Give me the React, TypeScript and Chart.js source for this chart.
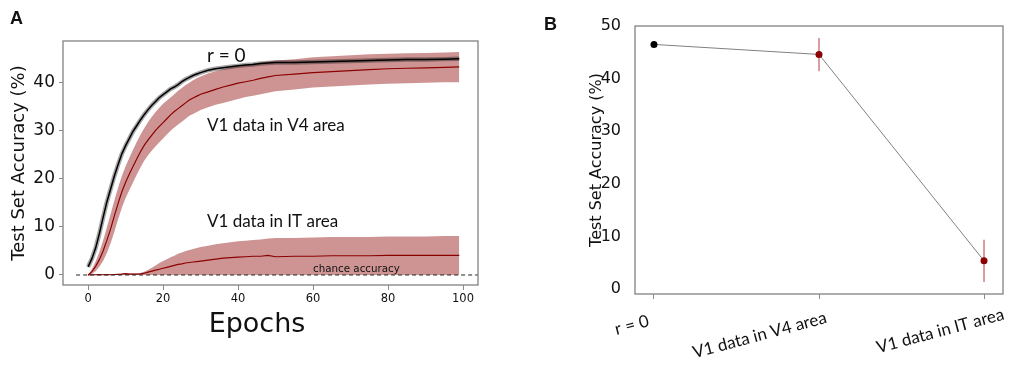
import React, { useEffect, useRef } from 'react';
import { Chart, registerables } from 'chart.js';

Chart.register(...registerables);

// ---------- Panel A data ----------
const epochs = [
  0, 1, 2, 3, 4, 5, 6, 7, 8, 9, 10, 11, 12, 13, 14, 15, 16, 17, 18, 19, 20, 21, 22, 23, 24, 25, 26, 27, 28, 29, 30,
  32, 34, 36, 38, 40, 42, 44, 46, 48, 50,
  55, 60, 65, 70, 75, 80, 85, 90, 95, 99,
];
const r0Mean = [
  1.7, 3.4, 5.6, 8.6, 12.0, 15.2, 17.9, 20.6, 23.0, 25.2, 26.9, 28.4, 29.9, 31.1, 32.3, 33.4, 34.4, 35.3, 36.1, 36.9, 37.5, 38.1, 38.7, 39.1, 39.6, 40.2, 40.7, 41.1, 41.5, 41.8, 42.1,
  42.6, 42.9, 43.1, 43.3, 43.5, 43.7, 43.8, 44.0, 44.1, 44.2,
  44.2, 44.3, 44.4, 44.5, 44.6, 44.7, 44.8, 44.8, 44.9, 45.0,
];
const v4Mean = [
  0, 0.7, 1.8, 3.2, 5.0, 7.2, 9.6, 12.3, 14.9, 17.3, 19.3, 21.0, 22.6, 24.2, 25.7, 27.0, 28.1, 29.1, 30.1, 30.9, 31.7, 32.5, 33.3, 34.0, 34.6, 35.2, 35.8, 36.4, 36.8, 37.2, 37.6,
  38.1, 38.6, 39.1, 39.5, 39.9, 40.2, 40.5, 40.9, 41.2, 41.5,
  41.8, 42.1, 42.3, 42.5, 42.7, 42.9, 43.0, 43.1, 43.2, 43.3,
];
const v4Upper = [
  0, 1.2, 2.8, 4.8, 7.2, 9.9, 12.7, 15.5, 18.2, 20.6, 22.6, 24.4, 26.1, 27.7, 29.2, 30.6, 31.8, 32.9, 33.9, 34.8, 35.6, 36.3, 36.9, 37.6, 38.3, 38.9, 39.5, 40.0, 40.5, 40.9, 41.3,
  41.9, 42.4, 42.8, 43.2, 43.5, 43.8, 44.0, 44.2, 44.4, 44.6,
  44.9, 45.3, 45.5, 45.7, 45.9, 46.0, 46.1, 46.2, 46.3, 46.4,
];
const v4Lower = [
  0, 0.2, 0.8, 1.7, 2.9, 4.6, 6.6, 9.0, 11.6, 14.0, 16.0, 17.7, 19.3, 20.9, 22.4, 23.8, 24.9, 25.9, 26.8, 27.6, 28.4, 29.2, 30.0, 30.7, 31.3, 31.9, 32.5, 33.1, 33.5, 33.9, 34.3,
  34.9, 35.4, 35.8, 36.2, 36.6, 37.0, 37.3, 37.6, 37.9, 38.2,
  38.6, 39.0, 39.2, 39.4, 39.6, 39.8, 39.9, 40.0, 40.1, 40.1,
];
const itMean = [
  0, 0.05, 0.05, 0.1, 0.05, 0.1, 0.05, 0.1, 0.15, 0.2, 0.3, 0.2, 0.2, 0.2, 0.25, 0.4, 0.6, 0.8, 1.0, 1.2, 1.4, 1.6, 1.8, 2.0, 2.2, 2.3, 2.5, 2.6, 2.7, 2.8, 2.9,
  3.1, 3.3, 3.5, 3.6, 3.7, 3.8, 3.9, 3.9, 4.1, 3.8,
  3.9, 3.9, 4.0, 4.0, 4.0, 4.1, 4.1, 4.1, 4.1, 4.1,
];
const itUpper = [
  0, 0.1, 0.1, 0.15, 0.1, 0.15, 0.1, 0.15, 0.2, 0.3, 0.4, 0.3, 0.3, 0.3, 0.4, 0.7, 1.1, 1.5, 2.0, 2.5, 2.9, 3.3, 3.7, 4.0, 4.4, 4.7, 5.0, 5.2, 5.4, 5.6, 5.8,
  6.1, 6.4, 6.6, 6.8, 7.0, 7.1, 7.3, 7.4, 7.6, 7.7,
  7.7, 7.8, 7.9, 7.9, 7.9, 8.0, 8.0, 8.0, 8.1, 8.1,
];
const itLower = [
  0, 0, 0, 0, 0, 0, 0, 0, 0, 0, 0, 0, 0, 0, 0, 0, 0, 0, 0, 0, 0, 0, 0, 0, 0, 0, 0, 0, 0, 0, 0,
  0, 0, 0, 0, 0, 0, 0, 0, 0, 0,
  0, 0, 0, 0, 0, 0, 0, 0, 0, 0,
];
const chanceX = [-3.2, 110];
const chanceY = [0, 0];
const xTicksA = [0, 20, 40, 60, 80, 100];
const yTicksA = [0, 10, 20, 30, 40];

// ---------- Panel B data ----------
const categoriesB = ['r = 0', 'V1 data in V4 area', 'V1 data in IT area'];
const accB = [46.5, 44.6, 5.4];
const errLowB = [46.5, 41.4, 1.4];
const errHighB = [46.5, 47.7, 9.4];
const yTicksB = [0, 10, 20, 30, 40, 50];

// ---------- styling / layout ----------
const DEJAVU = "'DejaVu Sans', sans-serif";
const LATO = "Lato, 'Open Sans', sans-serif";
const BOLD = "'Liberation Sans', Arial, sans-serif";
const BAND = 'rgba(139,0,0,0.42)';
const DARKRED = '#8b0000';
const FRAME = '#8a8a8a';
const TEXT = '#111';

const annotationsA = [
  { text: 'r = 0', x: 31.7, y: 44.4, size: 19, family: LATO },
  { text: 'V1 data in V4 area', x: 31.7, y: 29.9, size: 17, family: LATO },
  { text: 'V1 data in IT area', x: 31.7, y: 9.9, size: 17, family: LATO },
  { text: 'chance accuracy', x: 60, y: 0.7, size: 10.3, family: DEJAVU },
];

const pts = (xs: number[], ys: number[]) => xs.map((x, i) => ({ x, y: ys[i] }));
const tickSetter = (vals: number[]) => (scale: any) => {
  scale.ticks = vals.map((v) => ({ value: v }));
};

const framePlugin = {
  id: 'frame',
  afterDraw(chart: any) {
    const { ctx, chartArea: a } = chart;
    ctx.save();
    ctx.strokeStyle = FRAME;
    ctx.lineWidth = 1.4;
    ctx.strokeRect(a.left, a.top, a.right - a.left, a.bottom - a.top);
    ctx.restore();
  },
};

const textPluginA = {
  id: 'textA',
  afterDraw(chart: any) {
    const { ctx } = chart;
    const xs = chart.scales.x;
    const ys = chart.scales.y;
    ctx.save();
    ctx.fillStyle = TEXT;
    ctx.textBaseline = 'alphabetic';
    ctx.textAlign = 'left';
    annotationsA.forEach((a) => {
      ctx.font = `${a.size}px ${a.family}`;
      ctx.fillText(a.text, xs.getPixelForValue(a.x), ys.getPixelForValue(a.y));
    });
    ctx.font = `27px ${DEJAVU}`;
    ctx.textAlign = 'center';
    ctx.fillText('Epochs', 257, 331.5);
    ctx.font = `bold 18px ${BOLD}`;
    ctx.textAlign = 'left';
    ctx.fillText('A', 10, 24);
    ctx.restore();
  },
};

const textPluginB = {
  id: 'textB',
  afterDraw(chart: any) {
    const { ctx, chartArea } = chart;
    const xs = chart.scales.x;
    const ang = (15 * Math.PI) / 180;
    ctx.save();
    ctx.fillStyle = TEXT;
    ctx.font = `17px ${LATO}`;
    ctx.textAlign = 'right';
    ctx.textBaseline = 'alphabetic';
    categoriesB.forEach((label, i) => {
      const s = i * 13;
      const bx = xs.getPixelForValue(i) - 4 + s * Math.cos(ang);
      const by = chartArea.bottom + 32 - s * Math.sin(ang);
      ctx.save();
      ctx.translate(bx, by);
      ctx.rotate(-ang);
      ctx.fillText(label, 0, 0);
      ctx.restore();
    });
    ctx.font = `bold 18px ${BOLD}`;
    ctx.textAlign = 'left';
    ctx.fillText('B', 14, 30);
    ctx.restore();
  },
};

function lineDs(data: any[], color: string, width: number, extra: any = {}) {
  return {
    data,
    borderColor: color,
    borderWidth: width,
    pointRadius: 0,
    fill: false,
    tension: 0,
    ...extra,
  };
}

export default function App() {
  const refA = useRef<HTMLCanvasElement>(null);
  const refB = useRef<HTMLCanvasElement>(null);

  useEffect(() => {
    const chartA = new Chart(refA.current as HTMLCanvasElement, {
      type: 'line',
      data: {
        datasets: [
          lineDs(pts(chanceX, chanceY), '#222', 1, { borderDash: [4, 3] }),
          lineDs(pts(epochs, r0Mean), '#000', 1.5),
          lineDs(pts(epochs, r0Mean), 'rgba(0,0,0,0.35)', 4.5),
          lineDs(pts(epochs, v4Mean), DARKRED, 1.2),
          lineDs(pts(epochs, itMean), DARKRED, 1.2),
          lineDs(pts(epochs, v4Upper), 'transparent', 0.01, { fill: '+1', backgroundColor: BAND }),
          lineDs(pts(epochs, v4Lower), 'transparent', 0.01),
          lineDs(pts(epochs, itUpper), 'transparent', 0.01, { fill: '+1', backgroundColor: BAND }),
          lineDs(pts(epochs, itLower), 'transparent', 0.01),
        ] as any,
      },
      options: {
        animation: false,
        responsive: false,
        maintainAspectRatio: false,
        layout: { padding: { left: 0, right: 22, top: 41, bottom: 0 } },
        plugins: { legend: { display: false }, tooltip: { enabled: false } },
        scales: {
          x: {
            type: 'linear',
            min: -6.7,
            max: 104,
            afterBuildTicks: tickSetter(xTicksA),
            afterFit: (s: any) => {
              s.height = 84;
            },
            grid: { drawOnChartArea: false, drawTicks: true, tickLength: 5, color: FRAME },
            border: { display: false },
            ticks: { autoSkip: false, maxRotation: 0, padding: 2, color: TEXT, font: { family: DEJAVU, size: 11.5 } },
          },
          y: {
            type: 'linear',
            min: -2.08,
            max: 48.67,
            afterBuildTicks: tickSetter(yTicksA),
            afterFit: (s: any) => {
              s.width = 63;
            },
            grid: { drawOnChartArea: false, drawTicks: true, tickLength: 4, color: FRAME },
            border: { display: false },
            ticks: { autoSkip: false, padding: 4, color: TEXT, font: { family: DEJAVU, size: 17 } },
            title: {
              display: true,
              text: 'Test Set Accuracy (%)',
              color: TEXT,
              font: { family: DEJAVU, size: 18 },
              padding: { top: 9, bottom: 0 },
            },
          },
        },
      } as any,
      plugins: [framePlugin, textPluginA],
    });

    const chartB = new Chart(refB.current as HTMLCanvasElement, {
      type: 'line',
      data: {
        datasets: [
          lineDs(pts([0, 1, 2], accB), '#808080', 1, {
            pointRadius: 3.5,
            pointBorderWidth: 0,
            pointBackgroundColor: ['#000', DARKRED, DARKRED],
            pointBorderColor: ['#000', DARKRED, DARKRED],
          }),
          lineDs(pts([1, 1], [errLowB[1], errHighB[1]]), '#d38585', 1.6),
          lineDs(pts([2, 2], [errLowB[2], errHighB[2]]), '#d38585', 1.6),
        ] as any,
      },
      options: {
        animation: false,
        responsive: false,
        maintainAspectRatio: false,
        layout: { padding: { left: 57, right: 8, top: 26, bottom: 0 } },
        plugins: { legend: { display: false }, tooltip: { enabled: false } },
        scales: {
          x: {
            type: 'linear',
            min: -0.115,
            max: 2.115,
            afterBuildTicks: tickSetter([0, 1, 2]),
            afterFit: (s: any) => {
              s.height = 75;
            },
            grid: { drawOnChartArea: false, drawTicks: true, tickLength: 5, color: FRAME },
            border: { display: false },
            ticks: { display: false },
          },
          y: {
            type: 'linear',
            min: -0.9,
            max: 50,
            afterBuildTicks: tickSetter(yTicksB),
            afterFit: (s: any) => {
              s.width = 48;
            },
            grid: { display: false },
            border: { display: false },
            ticks: { autoSkip: false, padding: 6, color: TEXT, font: { family: DEJAVU, size: 16 } },
            title: {
              display: true,
              text: 'Test Set Accuracy (%)',
              color: TEXT,
              font: { family: DEJAVU, size: 16 },
              padding: { top: 0, bottom: 0 },
            },
          },
        },
      } as any,
      plugins: [framePlugin, textPluginB],
    });

    return () => {
      chartA.destroy();
      chartB.destroy();
    };
  }, []);

  return (
    <div style={{ position: 'fixed', left: 0, top: 0, width: 1011, height: 369, background: '#fff' }}>
      <canvas ref={refA} width={500} height={369} style={{ position: 'absolute', left: 0, top: 0, width: 500, height: 369 }} />
      <canvas ref={refB} width={481} height={369} style={{ position: 'absolute', left: 530, top: 0, width: 481, height: 369 }} />
    </div>
  );
}
